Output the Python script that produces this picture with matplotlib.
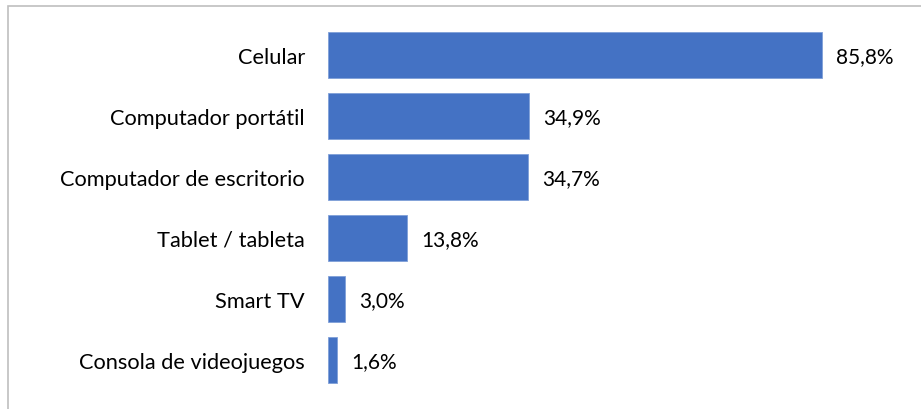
import matplotlib.pyplot as plt
from matplotlib.patches import Rectangle

categorias = ['Celular', 'Computador portátil', 'Computador de escritorio',
              'Tablet / tableta', 'Smart TV', 'Consola de videojuegos']
valores = [85.8, 34.9, 34.7, 13.8, 3.0, 1.6]
etiquetas = ['85,8%', '34,9%', '34,7%', '13,8%', '3,0%', '1,6%']

plt.rcParams['font.family'] = ['Lato', 'DejaVu Sans']

fig = plt.figure(figsize=(9.21, 4.10), dpi=100)
W, H = 921, 410
ax = fig.add_axes([328 / W, 1 - 391.5 / H, 576 / W, 366 / H])

y = list(range(len(categorias)))
ax.barh(y, valores, height=0.76, color='#4472C4', edgecolor='#7F9FD8', linewidth=0.6)
ax.set_yticks(y)
ax.set_yticklabels(categorias, fontsize=15.7)
ax.set_ylim(len(categorias) - 0.5, -0.5)
ax.set_xlim(0, 100)
ax.tick_params(axis='y', length=0, pad=16.5)
ax.set_xticks([])
for s in ax.spines.values():
    s.set_visible(False)

for yi, v, t in zip(y, valores, etiquetas):
    ax.annotate(t, (v, yi), xytext=(10, -1), textcoords='offset points',
                va='center', ha='left', fontsize=15)

# marco del gráfico
fig.patches.append(Rectangle((8 / W, -0.1), 1.2, 1 - 7 / H + 0.1,
                             transform=fig.transFigure, fill=False,
                             edgecolor='#BFBFBF', linewidth=1.2))

fig.savefig('out.png', dpi=100)
